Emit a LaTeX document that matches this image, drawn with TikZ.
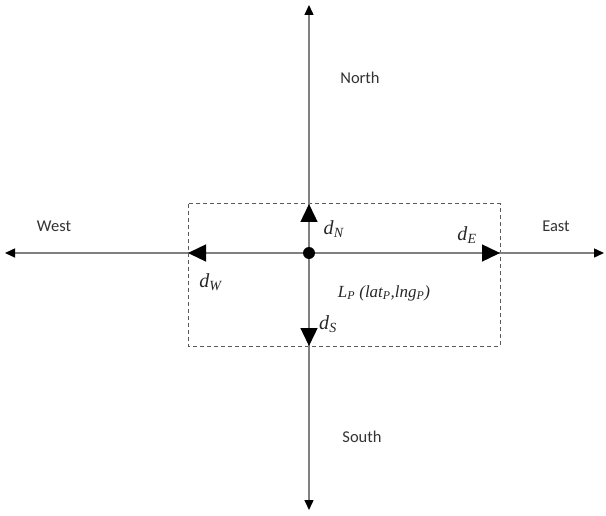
\documentclass[tikz,border=0pt]{standalone}
\usepackage{fontspec}
\setmainfont{Liberation Serif}
\newfontfamily\labelfont{Carlito}
\usetikzlibrary{arrows.meta}
\begin{document}
\begin{tikzpicture}[x=1pt,y=-1pt,
  axis/.style={draw=black!50,line width=1.4pt},
  outertip/.style={-{Triangle[length=10pt,width=9pt,color=black]}},
  bigtip/.style={-{Triangle[length=18pt,width=17pt,color=black]}},
  dirlabel/.style={font=\labelfont\fontsize{16.5}{20}\selectfont,text=black!80},
  dlabel/.style={font=\fontsize{20}{24}\selectfont,text=black!85},
  box/.style={draw=black!65,line width=1pt,dash pattern=on 4pt off 3pt}]
\useasboundingbox (0,0) rectangle (606,516);
% coordinates
\coordinate (C) at (309,253);
\coordinate (Ntop) at (309,5);
\coordinate (Sbot) at (309,510);
\coordinate (Wend) at (5,253);
\coordinate (Eend) at (604,253);
\coordinate (tN) at (309,204);
\coordinate (tS) at (309,346);
\coordinate (tW) at (188,253);
\coordinate (tE) at (500,253);
% dashed box
\draw[box] (188,204) rectangle (500,346);
% axes
\draw[axis,outertip] (C) -- (Ntop);
\draw[axis,outertip] (C) -- (Sbot);
\draw[axis,outertip] (C) -- (Wend);
\draw[axis,outertip] (C) -- (Eend);
% direction arrows
\draw[axis,bigtip] (C) -- (tN);
\draw[axis,bigtip] (C) -- (tS);
\draw[axis,bigtip] (C) -- (tW);
\draw[axis,bigtip] (C) -- (tE);
% dot
\fill[black] (C) circle (6pt);
% labels
\node[dirlabel] (north) at (360,78) {North};
\node[dirlabel] (south) at (362,437) {South};
\node[dirlabel] (west) at (54,226) {West};
\node[dirlabel] (east) at (556,226) {East};
\node[dlabel] (dN) at (334,229) {\textit{d}\textsubscript{\textit{N}}};
\node[dlabel] (dE) at (467,235) {\textit{d}\textsubscript{\textit{E}}};
\node[dlabel] (dW) at (211,282) {\textit{d}\textsubscript{\textit{W}}};
\node[dlabel] (dS) at (328,324) {\textit{d}\textsubscript{\textit{S}}};
\node[font=\fontsize{17}{20}\selectfont\itshape,text=black!85] (LP) at (384,293)
  {L\textsubscript{P} (lat\textsubscript{P},lng\textsubscript{P})};
\end{tikzpicture}
\end{document}
